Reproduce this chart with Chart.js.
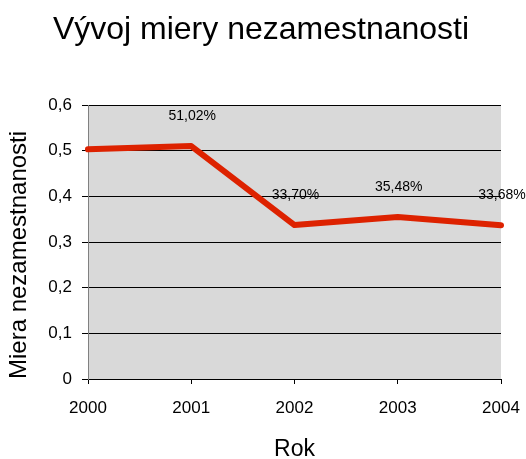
<!DOCTYPE html>
<html>
<head>
<meta charset="utf-8">
<script src="https://cdn.jsdelivr.net/npm/chart.js@4"></script>
<style>
  html, body { margin: 0; padding: 0; background: #fff; }
  #chart { display: block; }
</style>
</head>
<body>
<canvas id="chart" width="526" height="459"></canvas>
<script>
"use strict";

// data
const years = ['2000', '2001', '2002', '2003', '2004'];
const rates = [0.503, 0.5102, 0.3370, 0.3548, 0.3368];
// the first point carries no label in the original
const pointLabels = [null, '51,02%', '33,70%', '35,48%', '33,68%'];
const chartTitle = 'Vývoj miery nezamestnanosti';

const FONT = "'Liberation Sans', Arial, sans-serif";

const plotBackground = {
    id: 'plotBackground',
    beforeDraw(chart) {
        const a = chart.chartArea;
        const ctx = chart.ctx;
        ctx.save();
        ctx.fillStyle = '#d9d9d9';
        ctx.fillRect(a.left, a.top, a.right - a.left, a.bottom - a.top);
        ctx.restore();
    }
};

// title sits centred on the whole picture, not on the padded box
const pageTitle = {
    id: 'pageTitle',
    afterDraw(chart) {
        const ctx = chart.ctx;
        ctx.save();
        ctx.font = '32px ' + FONT;
        ctx.fillStyle = '#000';
        ctx.textAlign = 'center';
        ctx.textBaseline = 'alphabetic';
        ctx.fillText(chartTitle, 261, 39);
        ctx.restore();
    }
};

const valueLabels = {
    id: 'valueLabels',
    afterDatasetsDraw(chart) {
        const ctx = chart.ctx;
        const meta = chart.getDatasetMeta(0);
        ctx.save();
        ctx.font = '14px ' + FONT;
        ctx.fillStyle = '#000';
        ctx.textAlign = 'center';
        ctx.textBaseline = 'middle';
        meta.data.forEach(function(pt, i) {
            if (!pointLabels[i]) return;
            ctx.fillText(pointLabels[i], pt.x + 1, pt.y - 30);
        });
        ctx.restore();
    }
};

const ctx = document.getElementById('chart');

new Chart(ctx, {
    type: 'line',
    data: {
        labels: years,
        datasets: [{
            data: rates,
            borderColor: '#dd2200',
            borderWidth: 6,
            borderCapStyle: 'round',
            borderJoinStyle: 'round',
            pointRadius: 0,
            tension: 0,
            fill: false
        }]
    },
    options: {
        responsive: false,
        animation: false,
        layout: {
            padding: { left: 10, right: 25, top: 105, bottom: 0 }
        },
        plugins: {
            legend: { display: false },
            tooltip: { enabled: false },
            title: { display: false }
        },
        scales: {
            x: {
                offset: false,
                grid: {
                    drawOnChartArea: false,
                    drawTicks: true,
                    tickLength: 5,
                    color: '#000'
                },
                border: { color: '#000', width: 1 },
                ticks: {
                    color: '#000',
                    padding: 14,
                    maxRotation: 0,
                    font: { family: FONT, size: 17 }
                },
                title: {
                    display: true,
                    text: 'Rok',
                    color: '#000',
                    font: { family: FONT, size: 23, lineHeight: 0.8 },
                    padding: 0
                },
                afterFit(scale) {
                    scale.height = 80;
                    // the edge labels may hang over the plot, keep the plot width fixed
                    scale.paddingLeft = 0;
                    scale.paddingRight = 0;
                }
            },
            y: {
                min: 0,
                max: 0.6,
                grid: {
                    color: '#000',
                    tickLength: 6
                },
                border: { color: '#808080', width: 1 },
                ticks: {
                    stepSize: 0.1,
                    color: '#000',
                    padding: 10,
                    font: { family: FONT, size: 17 },
                    callback: function(v) {
                        return v === 0 ? '0' : v.toFixed(1).replace('.', ',');
                    }
                },
                title: {
                    display: true,
                    text: 'Miera nezamestnanosti',
                    align: 'start',
                    color: '#000',
                    font: { family: FONT, size: 24, lineHeight: 0.8 },
                    padding: 0
                },
                afterFit(scale) { scale.width = 78; }
            }
        }
    },
    plugins: [plotBackground, valueLabels, pageTitle]
});
</script>
</body>
</html>
